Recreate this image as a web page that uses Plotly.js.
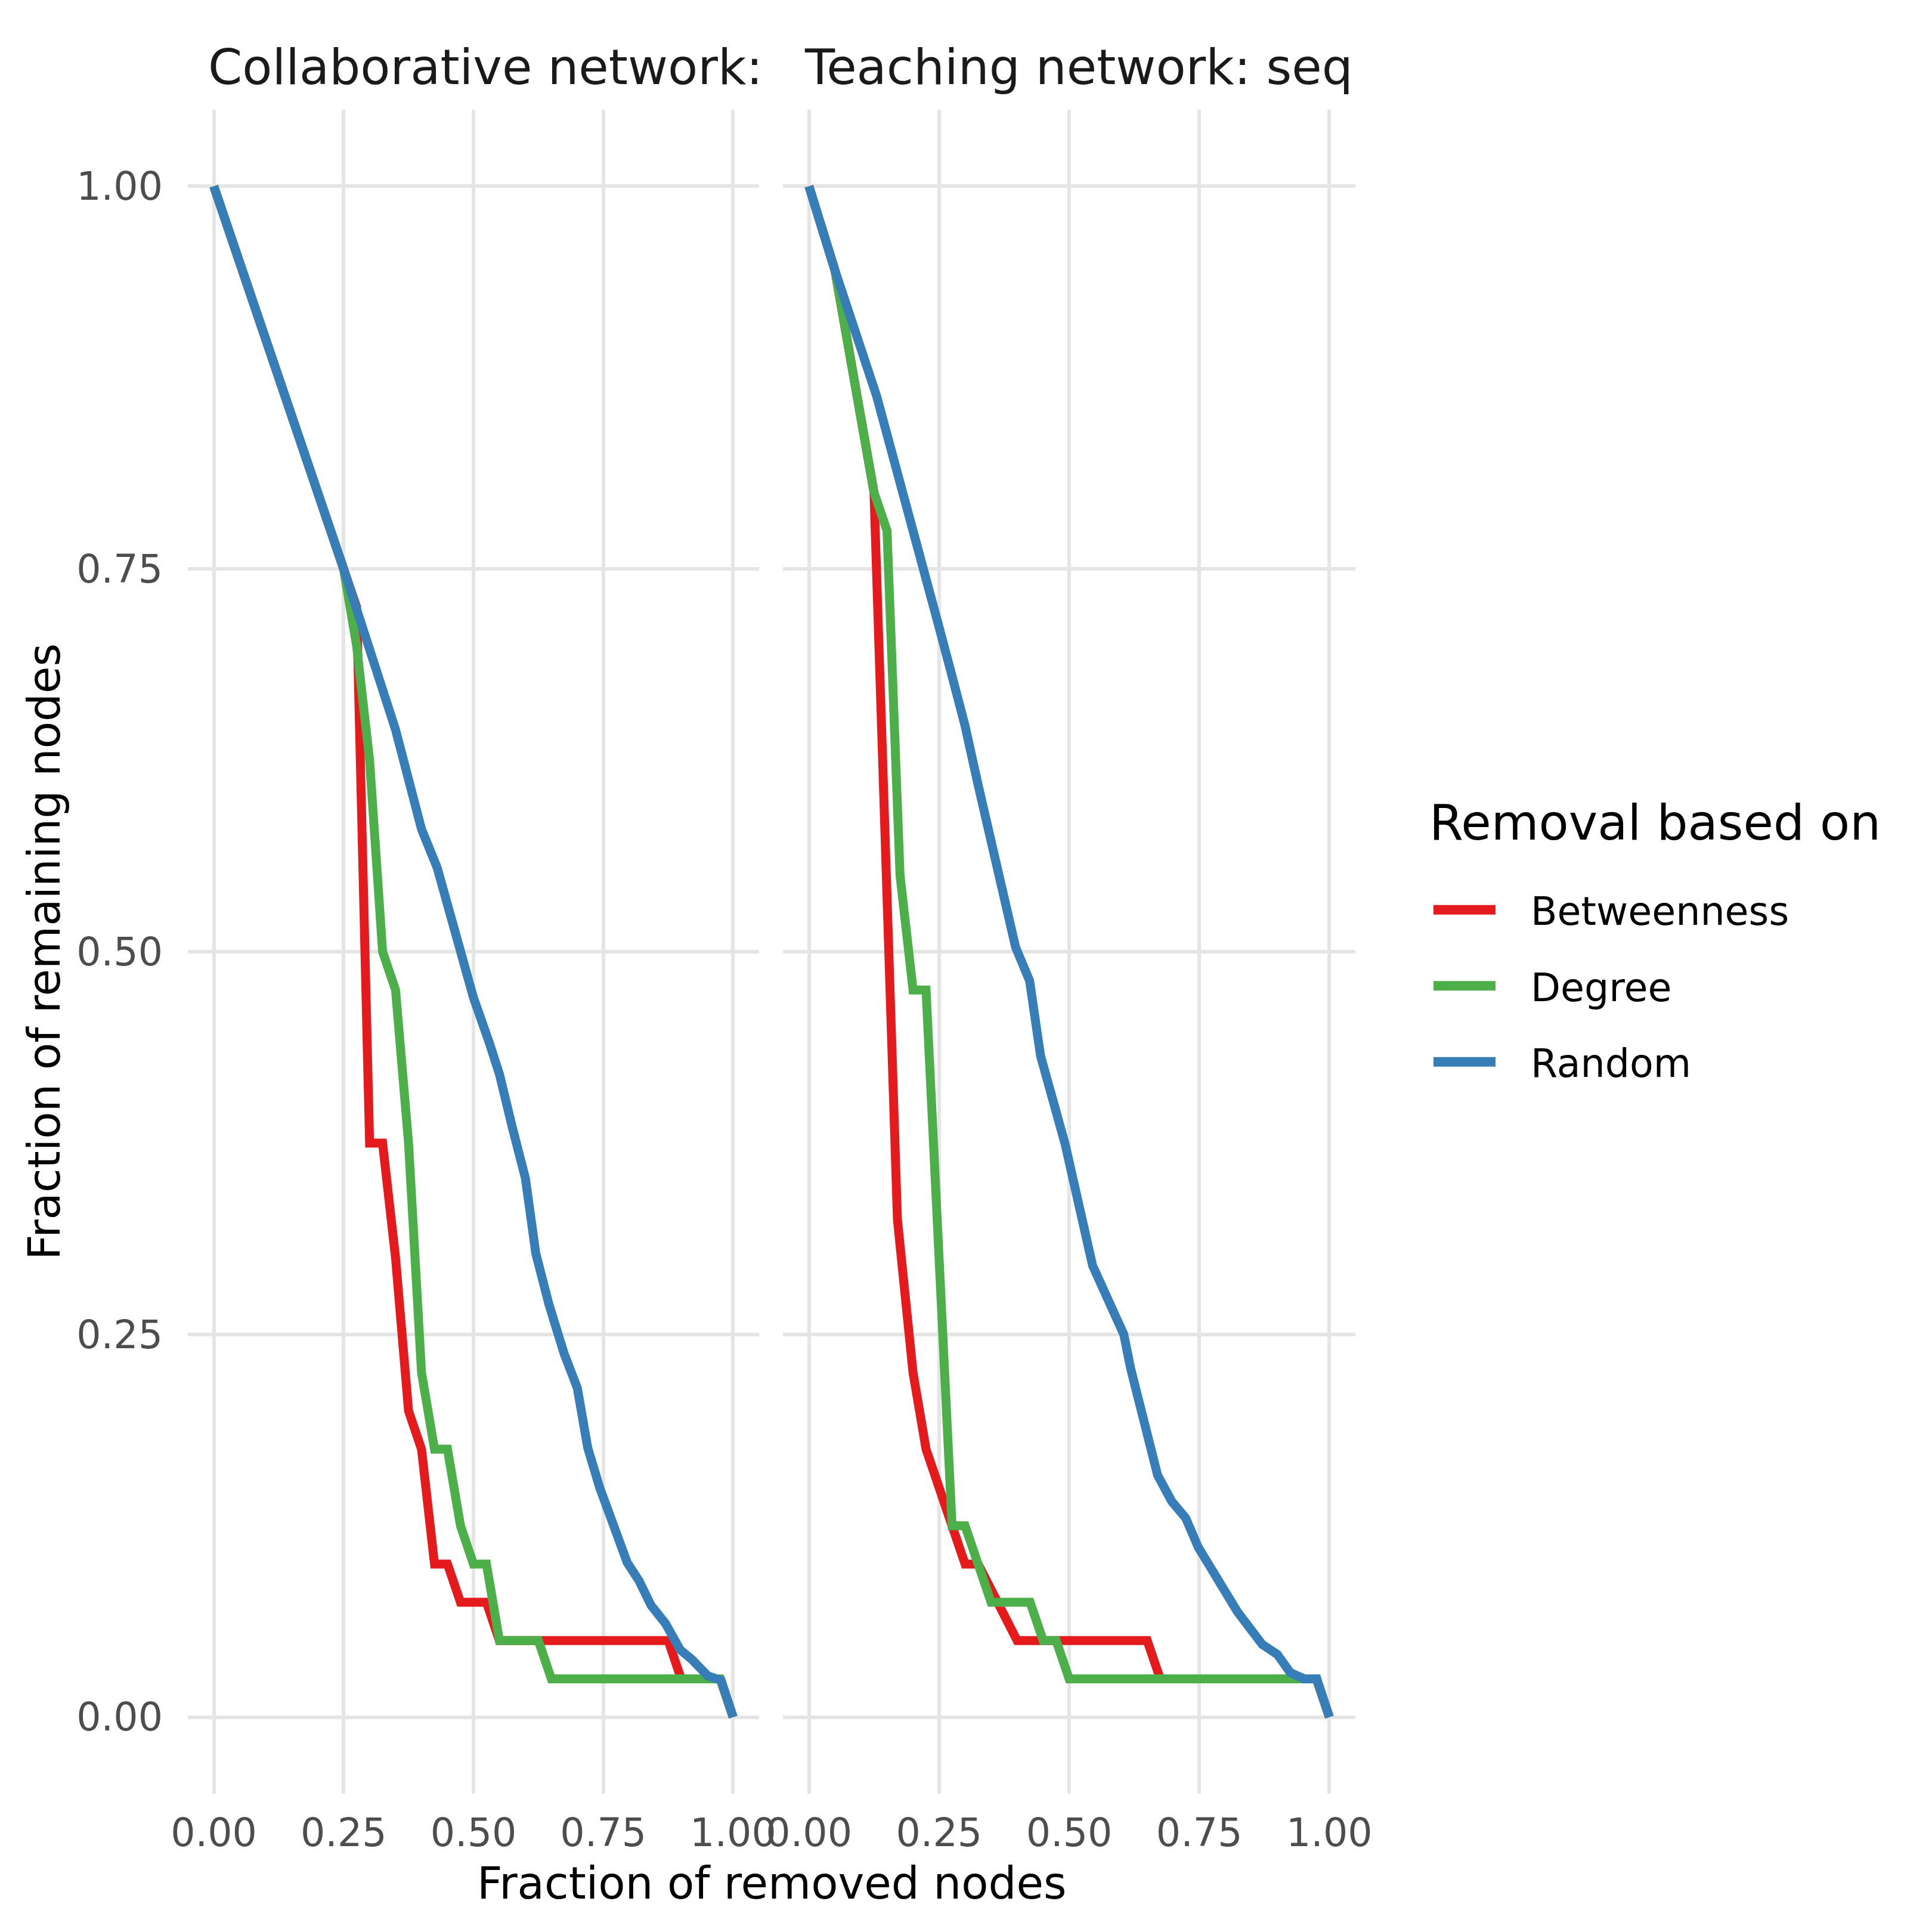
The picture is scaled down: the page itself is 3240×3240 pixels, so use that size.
<!DOCTYPE html>
<html>
<head>
<meta charset="utf-8">
<script src="https://cdn.plot.ly/plotly-3.0.1.min.js"></script>
<style>
  html, body { margin: 0; padding: 0; background: #fff; }
  #plot { width: 3240px; height: 3240px; }
</style>
</head>
<body>
<div id="plot"></div>
<script>
// panel titles and legend names
var panelTitles = ['Collaborative network:', 'Teaching network: seq'];
var legendTitle = 'Removal based on';
var methods = ['Betweenness', 'Degree', 'Random'];
var colors = ['#E41A1C', '#4DAF4A', '#377EB8'];
var tickVals = [0, 0.25, 0.5, 0.75, 1];
var tickText = ['0.00', '0.25', '0.50', '0.75', '1.00'];

// Collaborative network
var collabBetwX = [0, 0.25, 0.275, 0.3, 0.325, 0.35, 0.375, 0.4, 0.425, 0.45, 0.475, 0.525, 0.55, 0.875, 0.9, 0.975, 1];
var collabBetwY = [1, 0.75, 0.725, 0.375, 0.375, 0.3, 0.2, 0.175, 0.1, 0.1, 0.075, 0.075, 0.05, 0.05, 0.025, 0.025, 0];
var collabDegX = [0, 0.25, 0.275, 0.3, 0.325, 0.35, 0.375, 0.4, 0.425, 0.45, 0.475, 0.5, 0.525, 0.55, 0.625, 0.65, 0.975, 1];
var collabDegY = [1, 0.75, 0.7, 0.625, 0.5, 0.475, 0.375, 0.225, 0.175, 0.175, 0.125, 0.1, 0.1, 0.05, 0.05, 0.025, 0.025, 0];
var collabRandX = [0, 0.25, 0.35, 0.4, 0.43, 0.5, 0.53, 0.55, 0.575, 0.6, 0.62, 0.645, 0.675, 0.7, 0.72, 0.743, 0.796, 0.819, 0.842, 0.87, 0.898, 0.921, 0.951, 0.977, 1];
var collabRandY = [1, 0.75, 0.645, 0.58, 0.555, 0.47, 0.441, 0.42, 0.385, 0.352, 0.303, 0.27, 0.237, 0.215, 0.176, 0.15, 0.101, 0.089, 0.073, 0.061, 0.044, 0.0375, 0.027, 0.024, 0];

// Teaching network
var teachBetwX = [0, 0.05, 0.125, 0.17, 0.2, 0.225, 0.3, 0.325, 0.4, 0.65, 0.675, 0.975, 1];
var teachBetwY = [1, 0.945, 0.8, 0.325, 0.225, 0.175, 0.1, 0.1, 0.05, 0.05, 0.025, 0.025, 0];
var teachDegX = [0, 0.05, 0.125, 0.15, 0.175, 0.2, 0.225, 0.275, 0.3, 0.35, 0.425, 0.45, 0.475, 0.5, 0.975, 1];
var teachDegY = [1, 0.945, 0.8, 0.775, 0.55, 0.475, 0.475, 0.125, 0.125, 0.075, 0.075, 0.05, 0.05, 0.025, 0.025, 0];
var teachRandX = [0, 0.05, 0.13, 0.172, 0.195, 0.225, 0.25, 0.275, 0.3, 0.325, 0.345, 0.37, 0.397, 0.424, 0.445, 0.4925, 0.523, 0.545, 0.605, 0.618, 0.67, 0.697, 0.724, 0.748, 0.823, 0.871, 0.9, 0.925, 0.952, 0.976, 1];
var teachRandY = [1, 0.945, 0.863, 0.812, 0.78, 0.745, 0.712, 0.68, 0.6475, 0.609, 0.58, 0.541, 0.503, 0.481, 0.432, 0.374, 0.324, 0.295, 0.25, 0.228, 0.158, 0.141, 0.13, 0.111, 0.069, 0.0475, 0.041, 0.029, 0.025, 0.025, 0];

var FONT = 'DejaVu Sans, Verdana, sans-serif';
var W = 3240, H = 3240;
// plot area in pixels (left, right, top, bottom)
var L = 315, R = 2273, T = 184, B = 3008;
var gap = 40; // space between panels
var pw = R - L, ph = B - T;
var split = 958 / pw;
var split2 = (958 + gap) / pw;

var panels = [
  {xs: [collabBetwX, collabDegX, collabRandX], ys: [collabBetwY, collabDegY, collabRandY], xa: 'x', ya: 'y'},
  {xs: [teachBetwX, teachDegX, teachRandX], ys: [teachBetwY, teachDegY, teachRandY], xa: 'x2', ya: 'y2'}
];

var data = [];
panels.forEach(function(p, pi) {
  for (var i = 0; i < methods.length; i++) {
    data.push({
      type: 'scatter',
      mode: 'lines',
      x: p.xs[i],
      y: p.ys[i],
      xaxis: p.xa,
      yaxis: p.ya,
      name: methods[i],
      legendgroup: methods[i],
      showlegend: pi === 0,
      line: {color: colors[i], width: 15, shape: 'linear'},
      hoverinfo: 'skip'
    });
  }
});

function axisBase(len) {
  return {
    range: [-0.05, 1.05],
    tickvals: tickVals,
    ticktext: tickText,
    showgrid: true,
    gridcolor: '#E5E5E5',
    gridwidth: 6,
    zeroline: false,
    showline: false,
    ticks: 'outside',
    ticklen: len,
    tickcolor: 'rgba(0,0,0,0)',
    tickfont: {family: FONT, size: 65, color: '#4D4D4D'},
    automargin: false,
    fixedrange: true
  };
}

var layout = {
  width: W,
  height: H,
  margin: {l: L, r: W - R, t: T, b: H - B, pad: 0},
  paper_bgcolor: '#FFFFFF',
  plot_bgcolor: '#FFFFFF',
  font: {family: FONT, color: '#000000'},
  xaxis: Object.assign(axisBase(9), {domain: [0, split]}),
  xaxis2: Object.assign(axisBase(9), {domain: [split2, 1]}),
  yaxis: Object.assign(axisBase(28), {anchor: 'x'}),
  yaxis2: Object.assign(axisBase(28), {anchor: 'x2', matches: 'y', showticklabels: false}),
  showlegend: true,
  legend: {
    x: (2399 - L) / pw,
    xanchor: 'left',
    y: 1 - (1477 - T) / ph,
    yanchor: 'top',
    traceorder: 'grouped',
    tracegroupgap: 40,
    itemwidth: 104,
    font: {family: FONT, size: 65, color: '#000000'},
    bgcolor: 'rgba(0,0,0,0)',
    borderwidth: 0
  },
  annotations: [
    {text: panelTitles[0], xref: 'paper', yref: 'paper', x: (347 - L) / pw, y: 1, xanchor: 'left', yanchor: 'middle', yshift: 72, showarrow: false, font: {family: FONT, size: 82, color: '#1A1A1A'}},
    {text: panelTitles[1], xref: 'paper', yref: 'paper', x: (1347 - L) / pw, y: 1, xanchor: 'left', yanchor: 'middle', yshift: 72, showarrow: false, font: {family: FONT, size: 82, color: '#1A1A1A'}},
    {text: 'Fraction of removed nodes', xref: 'paper', yref: 'paper', x: 0.5, y: 0, xanchor: 'center', yanchor: 'middle', yshift: -150, showarrow: false, font: {family: FONT, size: 74, color: '#000000'}},
    {text: 'Fraction of remaining nodes', xref: 'paper', yref: 'paper', x: (74 - L) / pw, y: 0.5, xanchor: 'center', yanchor: 'middle', textangle: -90, showarrow: false, font: {family: FONT, size: 74, color: '#000000'}},
    {text: legendTitle, xref: 'paper', yref: 'paper', x: (2395 - L) / pw, y: 1 - (1379 - T) / ph, xanchor: 'left', yanchor: 'middle', showarrow: false, font: {family: FONT, size: 82, color: '#000000'}}
  ]
};

Plotly.newPlot('plot', data, layout, {staticPlot: true, displayModeBar: false}).then(function(gd) {
  // ggplot-style legend keys: thicker key lines, labels set further right
  gd.querySelectorAll('.legend .legendlines path').forEach(function(p) {
    p.style.strokeWidth = '16px';
  });
  gd.querySelectorAll('.legend .legendtext').forEach(function(t) {
    t.setAttribute('x', parseFloat(t.getAttribute('x')) + 54);
  });
  // the shifted labels must not be cut by the legend's clip box
  gd.querySelectorAll('.legend [clip-path]').forEach(function(el) {
    el.removeAttribute('clip-path');
  });
});
</script>
</body>
</html>
